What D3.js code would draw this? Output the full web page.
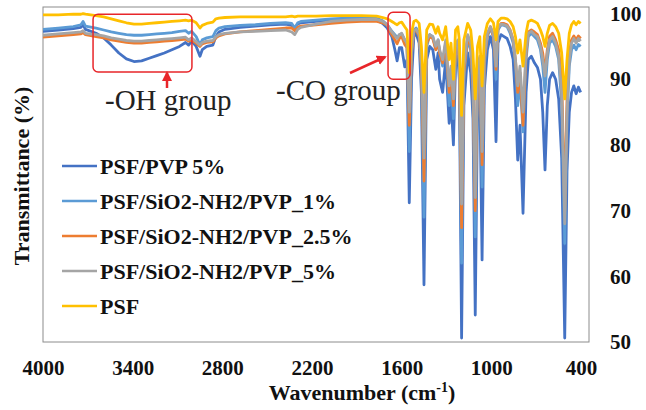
<!DOCTYPE html>
<html>
<head>
<meta charset="utf-8">
<script src="https://cdn.jsdelivr.net/npm/d3@7"></script>
<style>
  body { margin: 0; background: #fff; }
  svg { display: block; }
</style>
</head>
<body>
<svg id="chart" width="646" height="410"></svg>
<script>
// wavenumber grid shared by every spectrum (cm-1)
var wavenumbers = [
  4000, 3900, 3800, 3750, 3736, 3720, 3650, 3600, 3550, 3500,
  3450, 3400, 3350, 3300, 3250, 3200, 3150, 3100, 3060, 3040,
  3020, 2990, 2965, 2950, 2920, 2880, 2860, 2840, 2800, 2700,
  2600, 2500, 2400, 2360, 2340, 2320, 2300, 2200, 2100, 2000,
  1900, 1800, 1760, 1730, 1700, 1680, 1665, 1650, 1635, 1615,
  1600, 1585, 1570, 1555, 1540, 1520, 1505, 1488, 1470, 1450,
  1430, 1410, 1395, 1385, 1365, 1345, 1322, 1310, 1294, 1280,
  1265, 1255, 1240, 1225, 1200, 1180, 1165, 1150, 1135, 1120,
  1105, 1090, 1070, 1050, 1030, 1013, 1000, 980, 960, 940,
  920, 900, 885, 870, 855, 835, 815, 800, 780, 760,
  740, 720, 705, 690, 675, 660, 640, 620, 600, 580,
  560, 545, 530, 515, 500, 485, 470, 455
];

// transmittance (%)
var psfPvp5 = [
  97.3, 97.5, 97.7, 97.9, 98.3, 97.6, 97.0, 96.3, 95.2, 94.0,
  93.1, 92.7, 92.8, 93.2, 93.6, 94.0, 94.5, 95.0, 95.6, 95.2,
  95.8, 95.0, 93.5, 94.5, 95.0, 95.2, 96.5, 97.2, 97.6, 97.9,
  98.1, 98.3, 98.4, 98.2, 97.8, 98.4, 98.6, 98.8, 98.9, 99.0,
  99.1, 99.0, 98.5, 97.8, 96.5, 94.5, 92.8, 94.8, 94.8, 91.9,
  93.0, 71.2, 90.0, 96.5, 97.0, 95.5, 88.0, 58.7, 93.0, 95.0,
  94.5, 91.5, 94.0, 90.0, 88.0, 93.0, 83.3, 87.0, 80.0, 92.0,
  93.5, 90.0, 50.6, 86.0, 94.0, 91.0, 84.0, 54.1, 86.0, 88.0,
  62.5, 88.5, 94.5, 96.5, 94.5, 80.5, 95.5, 96.8, 96.5, 96.2,
  95.0, 93.0, 87.0, 77.7, 83.0, 69.6, 88.0, 93.0, 93.5, 92.5,
  91.8, 90.0, 85.0, 76.2, 86.0, 90.0, 91.0, 90.0, 87.0, 78.0,
  50.6, 76.0, 85.0, 88.0, 89.0, 87.8, 88.8, 88.0
];
var sio2Pvp1 = [
  97.6, 97.8, 98.0, 98.3, 98.8, 98.1, 97.8, 97.5, 97.2, 97.0,
  96.8, 96.7, 96.7, 96.8, 96.9, 97.0, 97.1, 97.3, 97.4, 97.0,
  97.3, 96.5, 95.2, 96.0, 96.3, 96.5, 97.4, 97.8, 98.0, 98.2,
  98.3, 98.5, 98.6, 98.5, 97.8, 98.6, 98.8, 99.0, 99.2, 99.3,
  99.3, 99.3, 98.9, 98.3, 97.3, 96.8, 96.3, 96.8, 96.9, 96.0,
  95.5, 79.0, 94.0, 97.5, 97.8, 97.0, 91.0, 69.0, 95.0, 96.8,
  96.5, 94.5, 96.0, 94.0, 92.0, 95.5, 86.0, 90.0, 84.0, 94.0,
  95.5, 92.0, 62.0, 90.0, 96.0, 94.5, 88.0, 66.0, 90.0, 92.0,
  73.6, 92.0, 96.5, 97.8, 96.5, 90.0, 97.5, 98.3, 98.2, 98.0,
  97.0, 95.5, 92.0, 86.0, 90.0, 82.0, 93.0, 96.5, 97.0, 96.5,
  96.0, 94.5, 92.0, 88.0, 93.0, 95.5, 96.0, 95.0, 93.0, 86.0,
  65.0, 84.0, 92.0, 94.5, 95.2, 94.5, 95.3, 95.0
];
var sio2Pvp25 = [
  96.4, 96.6, 96.8, 96.9, 97.1, 96.8, 96.5, 96.3, 96.0, 95.8,
  95.6, 95.5, 95.5, 95.6, 95.7, 95.8, 95.9, 96.0, 96.1, 95.8,
  96.0, 95.5, 95.0, 95.4, 95.6, 95.7, 96.3, 96.6, 96.9, 97.2,
  97.4, 97.6, 97.8, 97.8, 97.4, 97.9, 98.1, 98.3, 98.5, 98.7,
  98.8, 98.8, 98.6, 98.2, 96.8, 96.0, 95.4, 96.2, 96.5, 95.3,
  94.8, 83.0, 94.0, 97.2, 97.5, 96.5, 92.0, 74.5, 95.5, 96.5,
  96.2, 94.5, 95.8, 94.0, 92.5, 95.5, 88.0, 91.0, 86.0, 94.5,
  95.8, 92.5, 67.4, 91.0, 96.5, 95.0, 89.0, 70.0, 91.0, 93.0,
  77.0, 93.0, 96.8, 98.0, 96.5, 91.5, 97.8, 98.5, 98.5, 98.3,
  97.5, 96.0, 93.0, 88.0, 91.0, 83.0, 94.0, 97.2, 97.5, 97.2,
  96.8, 95.5, 94.0, 91.0, 94.5, 96.5, 97.0, 96.0, 94.5, 90.0,
  70.0, 87.0, 94.0, 96.0, 96.6, 96.0, 96.6, 96.2
];
var sio2Pvp5 = [
  96.7, 96.9, 97.1, 97.2, 97.4, 97.0, 96.8, 96.6, 96.3, 96.1,
  95.9, 95.8, 95.8, 95.9, 96.0, 96.1, 96.2, 96.3, 96.4, 96.0,
  96.3, 95.7, 95.2, 95.6, 95.8, 95.9, 96.5, 96.8, 97.0, 97.2,
  97.3, 97.4, 97.5, 97.2, 96.8, 97.6, 97.9, 98.4, 98.8, 99.0,
  99.1, 99.1, 98.8, 98.3, 97.2, 96.6, 96.2, 96.8, 97.0, 96.0,
  95.5, 85.0, 94.5, 97.4, 97.6, 96.8, 92.5, 78.0, 96.0, 96.8,
  96.5, 95.0, 96.0, 94.5, 93.0, 96.0, 89.0, 92.0, 87.0, 95.0,
  96.0, 93.0, 71.0, 92.0, 96.8, 95.5, 90.0, 72.0, 92.0, 93.5,
  79.0, 93.5, 97.0, 98.0, 96.8, 92.0, 97.8, 98.4, 98.3, 98.1,
  97.4, 96.0, 93.0, 89.0, 92.0, 85.0, 94.5, 97.0, 97.3, 96.8,
  96.5, 95.0, 93.0, 90.5, 94.0, 96.0, 96.5, 95.5, 93.5, 88.0,
  68.0, 85.0, 93.0, 95.5, 96.2, 95.5, 96.2, 95.8
];
var psf = [
  99.8, 99.8, 99.9, 99.9, 100.0, 99.9, 99.7, 99.5, 99.2, 98.9,
  98.6, 98.4, 98.4, 98.5, 98.6, 98.7, 98.8, 98.9, 99.0, 98.9,
  99.0, 98.6, 97.8, 98.2, 98.5, 98.7, 99.2, 99.3, 99.4, 99.5,
  99.5, 99.5, 99.5, 99.6, 99.5, 99.6, 99.6, 99.6, 99.7, 99.7,
  99.7, 99.6, 99.4, 99.2, 98.8, 98.5, 98.3, 98.6, 98.7, 98.0,
  97.5, 91.0, 97.0, 98.8, 99.0, 98.5, 95.0, 88.0, 97.5, 98.4,
  98.3, 97.0, 98.0, 97.0, 96.0, 98.0, 93.0, 95.5, 90.0, 97.5,
  98.0, 96.0, 84.5, 96.0, 98.5, 97.5, 94.0, 87.0, 95.0, 96.5,
  89.0, 96.5, 98.5, 99.2, 98.6, 96.0, 98.8, 99.3, 99.3, 99.2,
  98.8, 98.0, 96.5, 94.0, 96.0, 92.0, 97.0, 98.8, 99.0, 98.8,
  98.5, 97.5, 96.5, 95.0, 97.0, 98.2, 98.5, 98.0, 97.0, 94.0,
  87.0, 93.0, 97.0, 98.3, 98.8, 98.3, 98.8, 98.5
];

var seriesNames = ["PSF/PVP 5%", "PSF/SiO2-NH2/PVP_1%", "PSF/SiO2-NH2/PVP_2.5%", "PSF/SiO2-NH2/PVP_5%", "PSF"];
var seriesValues = [psfPvp5, sio2Pvp1, sio2Pvp25, sio2Pvp5, psf];
var seriesColors = ["#4472C4", "#5B9BD5", "#ED7D31", "#A5A5A5", "#FFC000"];

var xTicks = [4000, 3400, 2800, 2200, 1600, 1000, 400];
var yTicks = [50, 60, 70, 80, 90, 100];

// annotation boxes: [wn left, wn right, T top, T bottom]
var ohBox = [3670, 3018, 99.9, 91.1];
var coBox = [1725, 1580, 100.2, 90.0];

var svg = d3.select("#chart");
var plotL = 43, plotR = 589, plotT = 7, plotB = 342;

var x = d3.scaleLinear().domain([4000, 400]).range([plotL, plotR]);
var y = d3.scaleLinear().domain([50, 101]).range([plotB, plotT]);
// category labels sit a little left of the frame end
var xLab = d3.scaleLinear().domain([4000, 400]).range([plotL, 581]);

svg.append("rect").attr("width", 646).attr("height", 410).attr("fill", "#fff");

var defs = svg.append("defs");
defs.append("clipPath").attr("id", "clip")
  .append("rect").attr("x", plotL).attr("y", plotT)
  .attr("width", plotR - plotL).attr("height", plotB - plotT);

// plot frame
svg.append("rect")
  .attr("x", plotL).attr("y", plotT)
  .attr("width", plotR - plotL).attr("height", plotB - plotT)
  .attr("fill", "none").attr("stroke", "#8c8c8c").attr("stroke-width", 1);

var line = d3.line()
  .x(function(d, i) { return x(wavenumbers[i]); })
  .y(function(d) { return y(d); });

svg.append("g").attr("clip-path", "url(#clip)")
  .selectAll("path").data(seriesValues).enter().append("path")
  .attr("d", line)
  .attr("fill", "none")
  .attr("stroke", function(d, i) { return seriesColors[i]; })
  .attr("stroke-width", 2.8)
  .attr("stroke-linejoin", "round");

var serif = "'Liberation Serif', 'Times New Roman', serif";

// x axis labels
var xAxis = d3.axisBottom(xLab).tickValues(xTicks).tickSize(0).tickPadding(0)
  .tickFormat(d3.format("d"));
var gx = svg.append("g").attr("transform", "translate(0," + 360 + ")").call(xAxis);
gx.select(".domain").remove();
gx.selectAll("text").attr("font-family", serif).attr("font-weight", "bold")
  .attr("font-size", 21).attr("fill", "#111");

// y axis labels on the right
var yAxis = d3.axisRight(y).tickValues(yTicks).tickSize(0).tickPadding(0);
var gy = svg.append("g").attr("transform", "translate(" + 610 + ",0)").call(yAxis);
gy.select(".domain").remove();
gy.selectAll("text").attr("font-family", serif).attr("font-weight", "bold")
  .attr("font-size", 21).attr("fill", "#111");

// axis titles
var xt = svg.append("text").attr("x", 362).attr("y", 400).attr("text-anchor", "middle")
  .attr("font-family", serif).attr("font-weight", "bold").attr("font-size", 22).attr("fill", "#111");
xt.append("tspan").text("Wavenumber (cm");
xt.append("tspan").attr("font-size", 14).attr("dy", -8).text("-1");
xt.append("tspan").attr("dy", 8).text(")");

svg.append("text")
  .attr("transform", "translate(29,176) rotate(-90)")
  .attr("text-anchor", "middle")
  .attr("font-family", serif).attr("font-weight", "bold").attr("font-size", 22).attr("fill", "#111")
  .text("Transmittance (%)");

// legend
var legend = svg.append("g");
seriesNames.forEach(function(name, i) {
  var ly = 166 + i * 35;
  legend.append("line").attr("x1", 62).attr("x2", 97).attr("y1", ly).attr("y2", ly)
    .attr("stroke", seriesColors[i]).attr("stroke-width", 2.5);
  legend.append("text").attr("x", 100).attr("y", ly).attr("dy", "0.35em")
    .attr("font-family", serif).attr("font-weight", "bold").attr("font-size", 22).attr("fill", "#111")
    .text(name);
});

// annotations
var red = "#E8262A";
[ohBox, coBox].forEach(function(b) {
  svg.append("rect")
    .attr("x", x(b[0])).attr("y", y(b[2]))
    .attr("width", x(b[1]) - x(b[0])).attr("height", y(b[3]) - y(b[2]))
    .attr("rx", 5).attr("fill", "none").attr("stroke", red).attr("stroke-width", 1.5);
});

defs.append("marker").attr("id", "head")
  .attr("viewBox", "0 0 10 10").attr("refX", 8).attr("refY", 5)
  .attr("markerWidth", 4).attr("markerHeight", 4).attr("orient", "auto")
  .append("path").attr("d", "M0,0L10,5L0,10z").attr("fill", red);

svg.append("line").attr("x1", 167).attr("y1", 88).attr("x2", 167).attr("y2", 73)
  .attr("stroke", red).attr("stroke-width", 2.5).attr("marker-end", "url(#head)");
svg.append("line").attr("x1", 350).attr("y1", 73).attr("x2", 385).attr("y2", 57)
  .attr("stroke", red).attr("stroke-width", 2.5).attr("marker-end", "url(#head)");

svg.append("text").attr("x", 105).attr("y", 110)
  .attr("font-family", serif).attr("font-size", 29).attr("fill", "#222").text("-OH group");
svg.append("text").attr("x", 276).attr("y", 100)
  .attr("font-family", serif).attr("font-size", 29).attr("fill", "#222").text("-CO group");
</script>
</body>
</html>
